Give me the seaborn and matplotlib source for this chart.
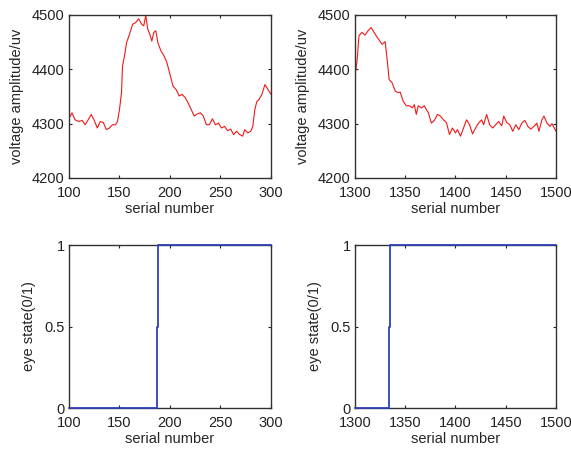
import pandas as pd
import seaborn as sns
import matplotlib
matplotlib.use('Agg')
import matplotlib.pyplot as plt

# voltage amplitude, serial numbers 100-300
left_x = [100, 103, 106, 110, 113, 116, 119, 122, 125, 128, 131, 134, 137, 140,
          143, 146, 148, 150, 152, 153, 155, 157, 160, 163, 166, 169, 172, 174,
          176, 178, 180, 182, 184, 186, 188, 191, 194, 197, 200, 203, 206, 209,
          212, 215, 218, 221, 224, 227, 230, 233, 236, 239, 242, 245, 248, 251,
          254, 257, 260, 263, 266, 269, 272, 274, 277, 280, 282, 284, 286, 288,
          291, 294, 297, 300]
left_volt = [4310, 4320, 4307, 4304, 4306, 4298, 4307, 4317, 4306, 4292, 4304,
             4302, 4289, 4292, 4298, 4298, 4304, 4326, 4357, 4406, 4425, 4449,
             4465, 4483, 4486, 4493, 4483, 4480, 4499, 4474, 4465, 4452, 4468,
             4471, 4449, 4434, 4425, 4412, 4391, 4369, 4363, 4351, 4354, 4348,
             4338, 4326, 4314, 4318, 4320, 4314, 4298, 4298, 4309, 4298, 4301,
             4292, 4295, 4287, 4290, 4280, 4286, 4280, 4277, 4289, 4283, 4286,
             4295, 4326, 4341, 4344, 4354, 4372, 4363, 4354]

# voltage amplitude, serial numbers 1300-1500
right_x = [1300, 1302, 1304, 1307, 1310, 1313, 1316, 1318, 1321, 1324, 1327,
           1330, 1332, 1334, 1337, 1340, 1343, 1345, 1348, 1351, 1354, 1357,
           1359, 1361, 1363, 1366, 1369, 1371, 1373, 1376, 1379, 1382, 1385,
           1388, 1391, 1394, 1397, 1400, 1402, 1405, 1408, 1411, 1414, 1417,
           1420, 1423, 1426, 1428, 1431, 1434, 1437, 1440, 1443, 1446, 1448,
           1451, 1454, 1457, 1460, 1463, 1466, 1469, 1472, 1475, 1478, 1481,
           1483, 1486, 1488, 1491, 1494, 1496, 1500]
right_volt = [4388, 4415, 4462, 4468, 4463, 4471, 4477, 4471, 4462, 4454, 4446,
              4451, 4418, 4381, 4375, 4360, 4357, 4358, 4341, 4333, 4333, 4329,
              4335, 4317, 4333, 4329, 4333, 4326, 4320, 4301, 4306, 4317, 4314,
              4307, 4302, 4280, 4292, 4283, 4289, 4277, 4292, 4307, 4298, 4281,
              4292, 4301, 4307, 4298, 4317, 4298, 4292, 4298, 4304, 4296, 4314,
              4302, 4298, 4286, 4298, 4289, 4301, 4306, 4295, 4290, 4295, 4301,
              4286, 4307, 4314, 4301, 4295, 4300, 4286]

# eye state change points
left_state_x = [100, 187, 188, 300]
left_state = [0, 0.5, 1, 1]
right_state_x = [1300, 1334, 1335, 1500]
right_state = [0, 0.5, 1, 1]

sns.set_style('ticks')
plt.rcParams['font.family'] = ['Liberation Sans', 'DejaVu Sans']
plt.rcParams['font.size'] = 10.5
plt.rcParams['xtick.direction'] = 'in'
plt.rcParams['ytick.direction'] = 'in'
plt.rcParams['xtick.top'] = True
plt.rcParams['ytick.right'] = True

fig = plt.figure(figsize=(5.71, 4.49), dpi=100)
axes = [fig.add_axes([0.1208, 0.6036, 0.3538, 0.3630]),
        fig.add_axes([0.6217, 0.6036, 0.3520, 0.3630]),
        fig.add_axes([0.1208, 0.0913, 0.3538, 0.3630]),
        fig.add_axes([0.6217, 0.0913, 0.3520, 0.3630])]

red = '#f21818'
blue = '#3040b8'

sns.lineplot(x=left_x, y=left_volt, ax=axes[0], color=red, lw=0.8, estimator=None)
sns.lineplot(x=right_x, y=right_volt, ax=axes[1], color=red, lw=0.8, estimator=None)
sns.lineplot(x=left_state_x, y=left_state, ax=axes[2], color=blue, lw=1.3,
             estimator=None, drawstyle='steps-post', clip_on=False, zorder=5)
sns.lineplot(x=right_state_x, y=right_state, ax=axes[3], color=blue, lw=1.3,
             estimator=None, drawstyle='steps-post', clip_on=False, zorder=5)

for i, ax in enumerate(axes):
    lo = 100 if i % 2 == 0 else 1300
    ax.set_xlim(lo, lo + 200)
    ax.set_xticks(range(lo, lo + 201, 50))
    ax.set_xlabel('serial number', labelpad=2)
    if i < 2:
        ax.set_ylim(4200, 4500)
        ax.set_yticks([4200, 4300, 4400, 4500])
        ax.set_ylabel('voltage amplitude/uv', labelpad=6)
    else:
        ax.set_ylim(0, 1)
        ax.set_yticks([0, 0.5, 1])
        ax.set_yticklabels(['0', '0.5', '1'])
        ax.set_ylabel('eye state(0/1)', labelpad=6)
    ax.tick_params(length=2.5, width=0.8, labelsize=10.5, colors='#222222')
    ax.tick_params(axis='x', pad=5.5)
    ax.tick_params(axis='y', pad=3)
    for s in ax.spines.values():
        s.set_visible(True)
        s.set_linewidth(1.0)
        s.set_color('#333333')

plt.savefig('out.png', dpi=100)
